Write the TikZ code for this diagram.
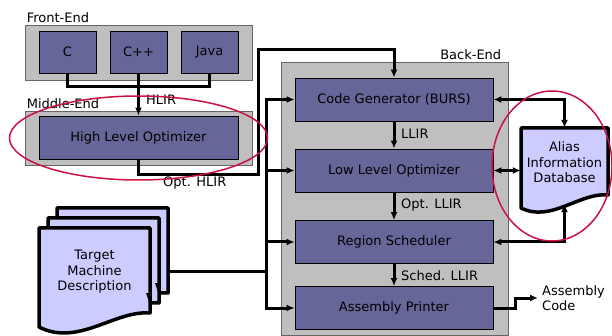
\documentclass[tikz,border=0pt]{standalone}
\usepackage{fontspec}
\setmainfont{DejaVu Sans}
\usetikzlibrary{positioning}
\usetikzlibrary{arrows.meta}

\definecolor{stageblue}{HTML}{666699}
\definecolor{pageblue}{HTML}{CCCCFF}
\definecolor{ringred}{HTML}{CC1144}

\begin{document}
\begin{tikzpicture}[x=1pt, y=-1pt, >={Latex[length=8pt,width=7pt]}, font=\fontsize{13}{15.5}\selectfont]
  \tikzstyle{frame}=[rectangle, draw = black!60, fill = black!25, line width = 0.8pt, inner sep = 0pt, minimum width = 227pt]
  \tikzstyle{stage}=[rectangle, draw = black, fill = stageblue, line width = 0.8pt, inner sep = 0pt, minimum height = 43pt]
  \tikzstyle{tag}=[inner sep = 1pt]
  \tikzstyle{wire}=[line width = 3pt]
  \tikzstyle{page}=[draw = black, fill = pageblue, line width = 3.5pt, line join = round]
  \tikzstyle{ring}=[draw = ringred, line width = 1.5pt]

  \useasboundingbox (0,0) rectangle (612,336);

  % front-end
  \node[frame, minimum height = 55pt] (front) at (138.5,52.5) {};
  \node[tag, above right = 1pt and 1pt of front.north west] (frontlabel) {Front-End};
  \foreach \x/\name/\lang in {67.5/c/C, 138.5/cpp/C++, 209.5/java/Java}
    \node[stage, minimum width = 57pt, minimum height = 42pt] (\name) at (\x,52) {\lang};

  % middle-end
  \node[frame, minimum height = 54pt] (middle) at (138.5,138) {};
  \node[tag, above right = 1pt and 1pt of middle.north west] (middlelabel) {Middle-End};
  \node[stage, minimum width = 199pt] (hlo) at (138.5,137.5) {High Level Optimizer};

  % back-end
  \node[frame, minimum height = 273pt] (back) at (394.5,198.5) {};
  \node[tag, above left = 1pt and 6pt of back.north east] (backlabel) {Back-End};
  \foreach \name/\y/\txt in {cg/99.5/Code Generator (BURS), llo/170.5/Low Level Optimizer,
                             rs/242/Region Scheduler, ap/308/Assembly Printer}
    \node[stage, minimum width = 198pt] (\name) at (394,\y) {\txt};

  % IR flow
  \draw[wire] (c.south) -- ++(0,13) -| (java.south);
  \draw[wire, ->] (cpp.south) -- (hlo.north);
  \node[tag, anchor = west] (hlir) at (145,100) {HLIR};
  \draw[wire, ->] (hlo.south) -- ++(0,15) -| (258,50) -| (cg.north);
  \node[tag, anchor = west] (opthlir) at (162,183) {Opt. HLIR};
  \foreach \from/\to/\y/\ir in {cg/llo/134/LLIR, llo/rs/205/Opt. LLIR, rs/ap/276/Sched. LLIR}
  {
    \draw[wire, ->] (\from.south) -- (\to.north);
    \node[tag, anchor = west] (ir\from) at (400,\y) {\ir};
  }

  % target machine description
  \foreach \dx/\dy in {18/-20, 9/-10, 0/0}
    \draw[page, shift = {(\dx,\dy)}] (39,228) -- (150,228) -- (150,313)
      .. controls (115,310) and (78,347) .. (39,327) -- cycle;
  \foreach \tx/\ty in {158/292, 149/302}
    \fill (\tx,\ty) -- ++(-3,-9) -- ++(6,0) -- cycle;
  \node[align = center] (target) at (94.5,272) {Target\\Machine\\Description};
  \coordinate (tmdport) at (168,271);
  \coordinate (bus) at (266,271);
  \foreach \name in {cg, llo, rs, ap}
    \draw[wire, ->] (tmdport) -- (bus) |- (\name.west);

  % alias information database
  \draw[page] (521,128) -- (608,128) -- (608,195)
    .. controls (580,192) and (551,223) .. (521,208) -- cycle;
  \node[minimum width = 87pt, minimum height = 76pt] (alias) at (564.5,166) {};
  \node[align = center] (aliastext) at (564.5,162.5) {Alias\\Information\\Database};
  \draw[wire, <->] (cg.east) -| (alias.north);
  \draw[wire, <->] (llo.east) -- (llo.east -| alias.west);
  \draw[wire, <->] (rs.east) -| (alias.south);

  % assembly output
  \node[tag, anchor = west, align = left, inner xsep = 4pt] (asm) at (538,298) {Assembly\\Code};
  \draw[wire, ->] (ap.east) -- ++(22,0) |- (asm.west);

  % highlighted parts
  \draw[ring] (138.5,138) ellipse (129 and 42);
  \draw[ring] (552,166) ellipse (60 and 75);
\end{tikzpicture}
\end{document}
